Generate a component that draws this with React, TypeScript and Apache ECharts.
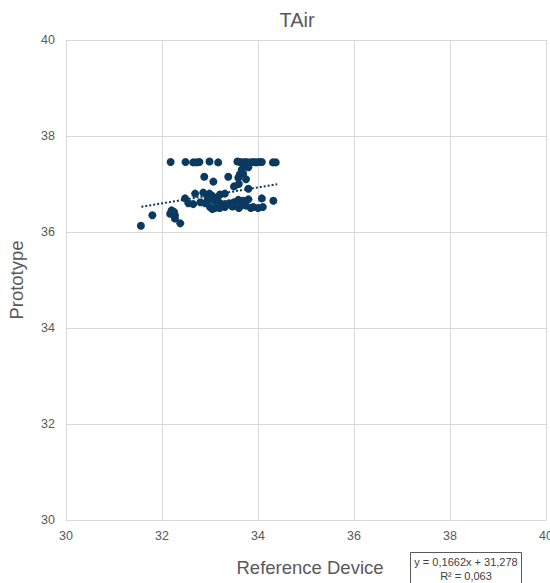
import React, { useEffect, useRef } from "react";
import * as echarts from "echarts";

const xTicks = [30, 32, 34, 36, 38, 40];
const yTicks = [30, 32, 34, 36, 38, 40];

const refDevice: number[] = [
  32.18, 32.49, 32.65, 32.72, 32.78, 32.99, 33.17, 33.57, 33.63, 33.69, 33.75, 33.83, 33.9, 33.96, 34.02, 34.08, 34.31, 34.37,
  33.73, 33.66, 33.8, 33.62, 33.69, 33.59, 33.75, 32.88, 33.38, 33.07, 33.5, 33.8, 33.6,
  32.69, 32.86, 32.99, 33.21, 33.31, 33.05, 32.95, 33.15,
  32.48, 33.0, 33.1, 34.08, 33.59, 33.69, 33.8, 34.32,
  32.55, 32.65, 32.8, 32.9, 33.21, 33.31, 33.4, 33.5, 33.45,
  33.0, 33.1, 33.31, 33.47, 33.6, 33.9, 34.0, 34.1, 33.05, 33.2, 33.75, 33.85, 33.65,
  31.8, 32.17, 32.27, 32.2, 32.27, 32.38, 31.56, 32.25,
];
const prototype: number[] = [
  37.46, 37.46, 37.45, 37.45, 37.46, 37.47, 37.45, 37.47, 37.46, 37.45, 37.46, 37.45, 37.46, 37.45, 37.46, 37.46, 37.45, 37.45,
  37.38, 37.3, 37.35, 37.2, 37.22, 37.13, 37.1, 37.15, 37.15, 37.05, 36.95, 36.9, 37.0,
  36.8, 36.82, 36.8, 36.78, 36.8, 36.75, 36.72, 36.7,
  36.7, 36.68, 36.65, 36.7, 36.67, 36.65, 36.68, 36.65,
  36.6, 36.58, 36.62, 36.6, 36.6, 36.58, 36.6, 36.62, 36.55,
  36.52, 36.5, 36.52, 36.53, 36.5, 36.52, 36.5, 36.52, 36.48, 36.5, 36.55, 36.5, 36.55,
  36.35, 36.38, 36.35, 36.45, 36.28, 36.18, 36.13, 36.42,
];
const trendX = [31.57, 34.4];
const trendY = [36.525, 36.995];

const GRAY = "#595959";
const GRID = "#d9d9d9";
const DOT = "#0b3a60";
const FONT = "Liberation Sans, Arial";

export default function App() {
  const ref = useRef<HTMLDivElement>(null);
  useEffect(() => {
    const chart = echarts.init(ref.current!, null, { renderer: "svg", width: 550, height: 583 });
    chart.setOption({
      animation: false,
      backgroundColor: "#fff",
      title: {
        text: "TAir",
        left: 292,
        top: 5,
        textAlign: "center",
        textStyle: { color: GRAY, fontSize: 20, fontWeight: "normal", fontFamily: FONT },
      },
      grid: { left: 66, right: 4, top: 40, bottom: 63, containLabel: false, outerBoundsMode: "none" },
      xAxis: {
        type: "value",
        min: xTicks[0],
        max: xTicks[xTicks.length - 1],
        interval: 2,
        name: "Reference Device",
        nameLocation: "middle",
        nameGap: 38,
        nameTextStyle: { color: GRAY, fontSize: 18.5, fontFamily: FONT, padding: [0, 0, 0, 8] },
        axisLine: { show: true, lineStyle: { color: GRID } },
        axisTick: { show: false },
        axisLabel: { color: GRAY, fontSize: 12.5, margin: 9, fontFamily: FONT },
        splitLine: { show: true, lineStyle: { color: GRID, width: 1 } },
      },
      yAxis: {
        type: "value",
        min: yTicks[0],
        max: yTicks[yTicks.length - 1],
        interval: 2,
        name: "Prototype",
        nameLocation: "middle",
        nameGap: 40,
        nameTextStyle: { color: GRAY, fontSize: 18.5, fontFamily: FONT },
        axisLine: { show: true, lineStyle: { color: GRID } },
        axisTick: { show: false },
        axisLabel: { color: GRAY, fontSize: 12.5, margin: 11, fontFamily: FONT },
        splitLine: { show: true, lineStyle: { color: GRID, width: 1 } },
      },
      series: [
        {
          type: "scatter",
          symbol: "circle",
          symbolSize: 8,
          itemStyle: { color: DOT, opacity: 1 },
          data: refDevice.map((x, i) => [x, prototype[i]]),
          z: 3,
        },
        {
          type: "line",
          symbol: "none",
          lineStyle: { color: DOT, width: 2, type: [2, 2] },
          data: trendX.map((x, i) => [x, trendY[i]]),
          z: 4,
        },
      ],
      graphic: [
        {
          type: "rect",
          shape: { x: 410.5, y: 552.5, width: 111, height: 40 },
          style: { fill: "#fff", stroke: GRAY, lineWidth: 1 },
        },
        {
          type: "text",
          x: 466,
          y: 562,
          style: {
            text: "y = 0,1662x + 31,278",
            fill: "#404040",
            fontSize: 11,
            fontFamily: FONT,
            align: "center",
            verticalAlign: "middle",
          },
        },
        {
          type: "text",
          x: 466,
          y: 576,
          style: {
            text: "R² = 0,063",
            fill: "#404040",
            fontSize: 11,
            fontFamily: FONT,
            align: "center",
            verticalAlign: "middle",
          },
        },
      ],
    });
    return () => chart.dispose();
  }, []);
  return (
    <div
      ref={ref}
      style={{ width: 550, height: 583, position: "fixed", left: 0, top: 0, overflow: "hidden" }}
    />
  );
}
